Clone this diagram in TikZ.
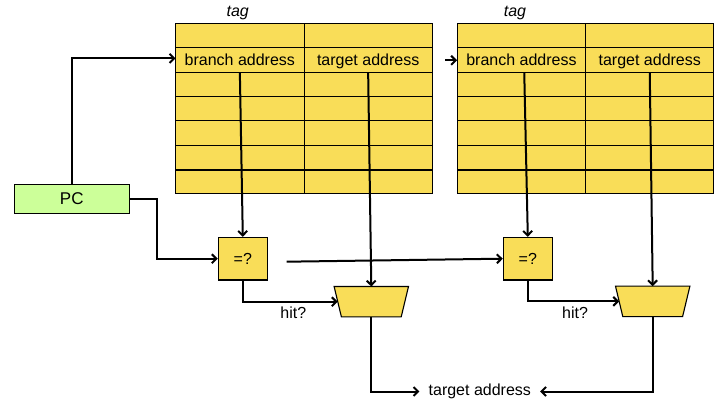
\documentclass[tikz,border=0pt]{standalone}
\usepackage{fontspec}
\setmainfont{Liberation Sans}
\usetikzlibrary{arrows.meta,calc}
\definecolor{byellow}{RGB}{249,221,88}
\definecolor{bgreen}{RGB}{204,255,153}
\begin{document}
\begin{tikzpicture}[x=1pt,y=-1pt,
  font=\fontsize{16}{18}\selectfont,
  conn/.style={line width=2pt,-{Straight Barb[length=4.5pt,width=9pt,line width=2pt]}},
  tabline/.style={line width=1pt},
  cell/.style={minimum width=128.3pt,minimum height=24.4pt,inner sep=0pt,text height=13pt,text depth=2pt},
  eqbox/.style={draw,line width=1.1pt,fill=byellow,minimum width=49pt,minimum height=42.7pt,inner sep=0pt},
  muxframe/.style={minimum width=74pt,minimum height=30pt,inner sep=0pt},
  muxshape/.style={draw,line width=1.1pt,fill=byellow,line join=miter},
  lbl/.style={inner sep=0pt}]
\useasboundingbox (0,0) rectangle (723,403);
% tables
\foreach \x/\n in {175.7/1,457.3/2}{
  \fill[byellow] (\x,23.3) rectangle ++(256.6,170.7);
  \foreach \k in {1,...,5}{\draw[tabline] (\x,23.3+24.4*\k) -- ++(256.6,0);}
  \draw[line width=2pt] (\x,23.3+24.4*6) -- ++(256.6,0);
  \draw[tabline] (\x+128.3,23.3) -- (\x+128.3,194);
  \draw[tabline] (\x,23.3) rectangle ++(256.6,170.7);
  \node[cell] (b\n) at (\x+64.15,59.9) {branch address};
  \node[cell] (t\n) at (\x+192.45,59.9) {target address};
}
\node[lbl,font=\fontsize{16}{18}\selectfont\itshape] (tag1) at (237.7,12.7) {tag};
\node[lbl,font=\fontsize{16}{18}\selectfont\itshape] (tag2) at (515,12.7) {tag};
% PC
\node[draw,line width=1.1pt,fill=bgreen,minimum width=115pt,minimum height=29pt,inner sep=0pt,font=\fontsize{17}{19}\selectfont] (pc) at (71.8,198.8) {PC};
% comparators
\node[eqbox] (eq1) at (242.8,258.7) {=?};
\node[eqbox] (eq2) at (527.8,258.7) {=?};
% muxes
\foreach \n/\x/\y in {1/371.3/301.7,2/652.7/301.4}{
  \node[muxframe] (mux\n) at (\x,\y) {};
  \draw[muxshape] (mux\n.north west) -- (mux\n.north east)
     -- ([xshift=-7.3pt]mux\n.south east) -- ([xshift=7.3pt]mux\n.south west) -- cycle;
  \coordinate (muxin\n) at ([xshift=3.65pt]mux\n.west);
}
% output
\node[inner xsep=9pt,inner ysep=0pt] (out) at (479.8,391.5) {target address};
\node[lbl] (hit1) at (293.3,312.7) {hit?};
\node[lbl] (hit2) at (575,312.7) {hit?};
% connectors
\draw[conn] (pc.north) |- ([yshift=1.5pt]b1.west);
\coordinate (a12) at (445,60.3);
\draw[conn] (a12) -- (a12 -| b2.west);
\draw[conn] (pc.east) -- ++(27.4,0) |- (eq1.west);
\coordinate (s12) at (286.7,261.7);
\draw[conn] (s12) -- (eq2.west);
\draw[conn] (b1.south) -- (eq1.north);
\draw[conn] ([xshift=2.8pt]b2.south) -- (eq2.north);
\draw[conn] (t1.south) -- (mux1.north);
\draw[conn] (t2.south) -- (mux2.north);
\draw[conn] (eq1.south) |- (muxin1);
\draw[conn] (eq2.south) |- (muxin2);
\draw[conn] (mux1.south) |- (out.west);
\draw[conn] (mux2.south) |- (out.east);
\end{tikzpicture}
\end{document}
